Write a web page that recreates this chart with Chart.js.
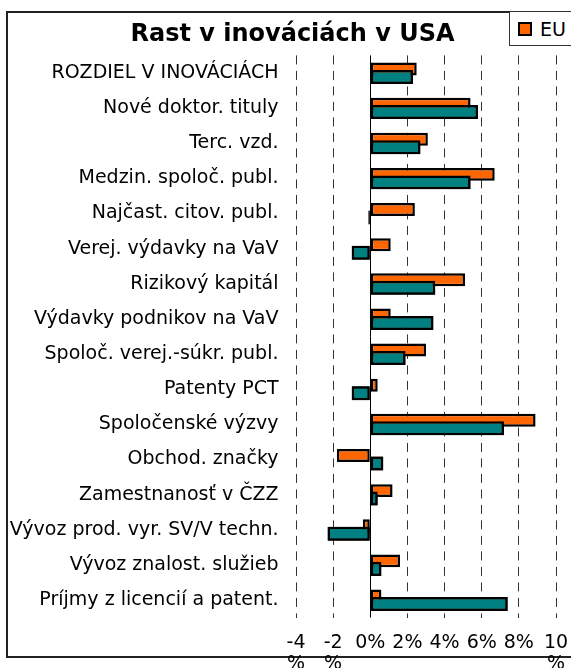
<!DOCTYPE html>
<html>
<head>
<meta charset="utf-8">
<script src="https://cdn.jsdelivr.net/npm/chart.js@4/dist/chart.umd.min.js"></script>
<style>
    html, body { margin: 0; padding: 0; background: #fff; overflow: hidden; width: 571px; height: 668px; }
    #wrap { position: relative; width: 571px; height: 668px; overflow: hidden; }
    #frame { position: absolute; left: 6px; top: 11px; width: 700px; height: 647px; border: 2px solid #222; box-sizing: border-box; }
    #chart { position: absolute; left: 0; top: 0; }
    #customLegend {
        position: absolute; left: 509px; top: 11px; height: 35px; width: 200px;
        border: 1px solid #333; box-sizing: border-box; background: #fff;
        font-family: "DejaVu Sans", Verdana, sans-serif; font-size: 19px;
        display: flex; align-items: center; padding-left: 8px; white-space: nowrap;
    }
    .legend-item { display: flex; align-items: center; margin-right: 14px; }
    .legend-box { width: 14px; height: 14px; border: 2px solid #000; box-sizing: border-box; margin-right: 8px; }
</style>
</head>
<body>
<div id="wrap">
    <div id="frame"></div>
    <canvas id="chart" width="585" height="668"></canvas>
    <div id="customLegend"></div>
</div>
<script>
// Growth in innovation, EU vs USA (%)
const CATEGORIES = [
    'ROZDIEL V INOVÁCIÁCH',
    'Nové doktor. tituly',
    'Terc. vzd.',
    'Medzin. spoloč. publ.',
    'Najčast. citov. publ.',
    'Verej. výdavky na VaV',
    'Rizikový kapitál',
    'Výdavky podnikov na VaV',
    'Spoloč. verej.-súkr. publ.',
    'Patenty PCT',
    'Spoločenské výzvy',
    'Obchod. značky',
    'Zamestnanosť v ČZZ',
    'Vývoz prod. vyr. SV/V techn.',
    'Vývoz znalost. služieb',
    'Príjmy z licencií a patent.'
];
const EU_VALUES  = [2.5, 5.4, 3.1, 6.7, 2.4, 1.1, 5.1, 1.1, 3.0, 0.4, 8.9, -1.8, 1.2, -0.4, 1.6, 0.6];
const USA_VALUES = [2.3, 5.8, 2.7, 5.4, -0.1, -1.0, 3.5, 3.4, 1.9, -1.0, 7.2, 0.7, 0.4, -2.3, 0.6, 7.4];
const X_TICK_LABELS = [['-4', '%'], ['-2', '%'], '0%', '2%', '4%', '6%', '8%', ['10', '%']];

const FONT = '"DejaVu Sans", Verdana, sans-serif';
const COLORS = { EU: '#FF6600', USA: '#008080' };

// zero line is solid, the rest of the grid is dashed
const zeroLine = {
    id: 'zeroLine',
    beforeDatasetsDraw(chart) {
        const { ctx, chartArea, scales } = chart;
        const x = Math.round(scales.x.getPixelForValue(0)) + 0.5;
        ctx.save();
        ctx.strokeStyle = '#000';
        ctx.lineWidth = 1;
        ctx.beginPath();
        ctx.moveTo(x, chartArea.top);
        ctx.lineTo(x, chartArea.bottom);
        ctx.stroke();
        ctx.restore();
    },
    // USA bars sit on top of the EU bars, like the original
    afterDatasetsDraw(chart) {
        const meta = chart.getDatasetMeta(1);
        meta.data.forEach(el => el.draw(chart.ctx, chart.chartArea));
    }
};

const chart = new Chart(document.getElementById('chart').getContext('2d'), {
    type: 'bar',
    data: {
        labels: CATEGORIES,
        datasets: [
            {
                label: 'EU',
                data: EU_VALUES,
                backgroundColor: COLORS.EU,
                borderColor: '#000',
                borderWidth: 2.5,
                borderSkipped: false,
                categoryPercentage: 0.455,
                barPercentage: 1.62
            },
            {
                label: 'USA',
                data: USA_VALUES,
                backgroundColor: COLORS.USA,
                borderColor: '#000',
                borderWidth: 2.5,
                borderSkipped: false,
                categoryPercentage: 0.455,
                barPercentage: 1.75
            }
        ]
    },
    options: {
        indexAxis: 'y',
        responsive: false,
        animation: false,
        layout: { padding: 0 },
        plugins: {
            legend: { display: false },
            tooltip: { enabled: false },
            title: {
                display: true,
                text: 'Rast v inováciách v USA',
                color: '#000',
                font: { family: FONT, size: 24, weight: 'bold', lineHeight: 1.2 },
                padding: { top: 20, bottom: 6.6 }
            }
        },
        scales: {
            x: {
                min: -4,
                max: 10,
                ticks: {
                    stepSize: 2,
                    color: '#000',
                    padding: 15.5,
                    maxRotation: 0,
                    font: { family: FONT, size: 19, lineHeight: 1.1 },
                    callback: (value, idx) => X_TICK_LABELS[idx]
                },
                grid: {
                    drawTicks: false,
                    lineWidth: 1,
                    color: ctx => ctx.tick && ctx.tick.value === 0 ? 'rgba(0,0,0,0)' : '#333'
                },
                border: { display: false, dash: [9, 6.5] },
                afterFit: scale => {
                    scale.height = 50.4;
                    scale.paddingLeft = 0;
                    scale.paddingRight = 29;
                }
            },
            y: {
                ticks: {
                    color: '#000',
                    padding: 17.5,
                    autoSkip: false,
                    font: { family: FONT, size: 19 }
                },
                grid: { display: false, drawTicks: false },
                border: { display: false },
                afterFit: scale => { scale.width = 296; }
            }
        }
    },
    plugins: [zeroLine]
});

function generateLegend(datasets) {
    const container = document.getElementById('customLegend');
    container.innerHTML = '';
    datasets.forEach(ds => {
        const item = document.createElement('div');
        item.className = 'legend-item';
        item.innerHTML = `<span class="legend-box" style="background:${ds.backgroundColor}"></span><span>${ds.label}</span>`;
        container.appendChild(item);
    });
}

generateLegend(chart.data.datasets);
</script>
</body>
</html>
